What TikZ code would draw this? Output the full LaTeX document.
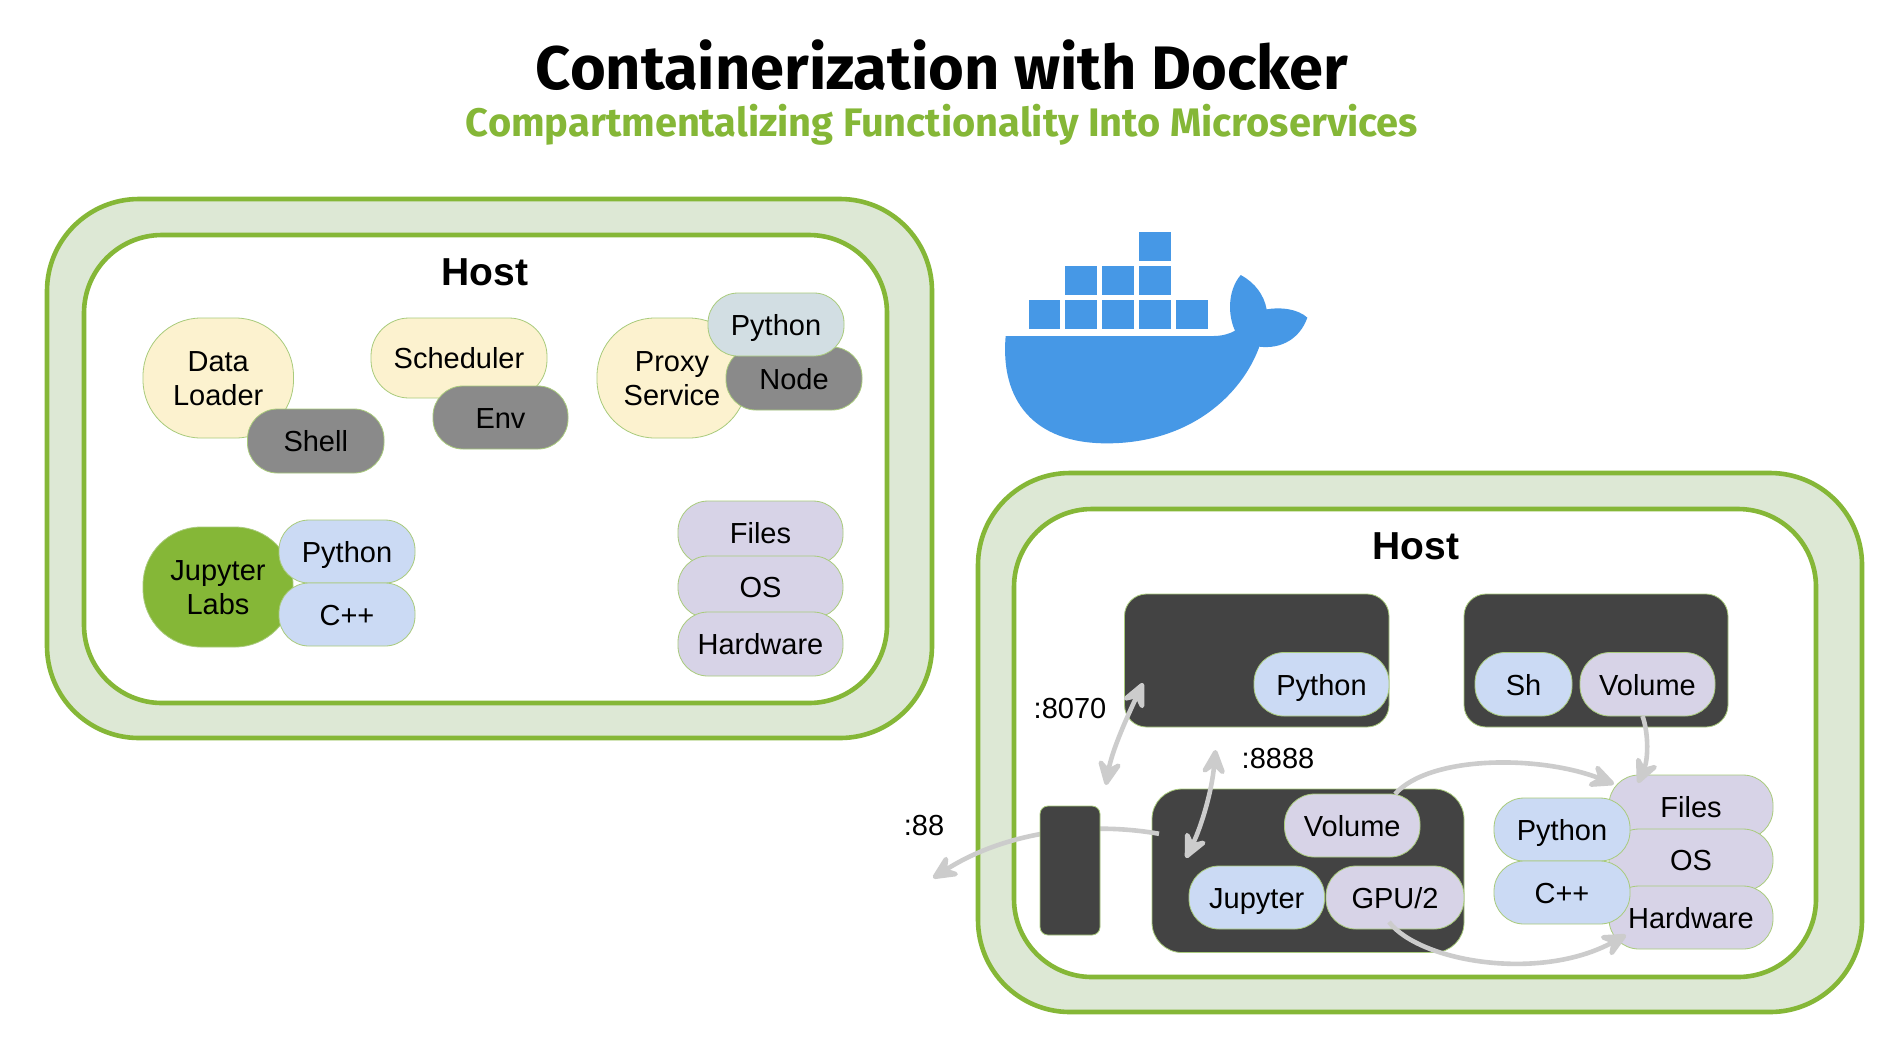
\documentclass[tikz,border=0pt]{standalone}
\usepackage{fontspec}
\setmainfont{Liberation Sans}
\newfontfamily\titlefont{Fira Sans}[UprightFont=* Bold]
\usetikzlibrary{arrows.meta,calc}
\definecolor{hostgreen}{HTML}{85B737}
\definecolor{hostfill}{HTML}{DDE8D5}
\definecolor{edgegreen}{HTML}{A9CB7C}
\definecolor{cream}{HTML}{FCF2CF}
\definecolor{midgrey}{HTML}{8A8A8A}
\definecolor{ltblue}{HTML}{CBDAF4}
\definecolor{bluegrey}{HTML}{D2DEE3}
\definecolor{lilac}{HTML}{D7D3E7}
\definecolor{darkbox}{HTML}{434343}
\definecolor{whale}{HTML}{4698E6}
\definecolor{arrowgrey}{HTML}{CCCCCC}
\newcommand{\lstrut}{\rule[-3pt]{0pt}{16.9pt}}
\newcommand{\shapeat}[7][]{%
  \pgfmathsetmacro{\cxx}{(#3+#5)/2}\pgfmathsetmacro{\cyy}{(#4+#6)/2}%
  \pgfmathsetmacro{\ww}{(#5-#3)/2}\pgfmathsetmacro{\hh}{(#6-#4)/2}%
  \node[#1,minimum width=\ww pt,minimum height=\hh pt] (#2) at (\cxx,\cyy) {\lstrut #7\lstrut};}
\tikzset{
  basebox/.style={draw=edgegreen,line width=0.4pt,inner sep=0pt,outer sep=0pt,align=center,
    font=\fontsize{14.5}{17}\selectfont,text=black},
  pill/.style={basebox,rounded corners=15pt},
  bigpill/.style={basebox,rounded corners=29pt},
  midpill/.style={basebox,rounded corners=19pt},
  cream pill/.style={fill=cream},
  grey pill/.style={pill,fill=midgrey},
  blue pill/.style={pill,fill=ltblue},
  lilac pill/.style={pill,fill=lilac},
  container/.style={basebox,fill=darkbox},
  hostouter/.style={draw=hostgreen,fill=hostfill,line width=2.3pt,rounded corners=46pt,inner sep=0pt},
  hostinner/.style={draw=hostgreen,fill=white,line width=2.3pt,rounded corners=39pt,inner sep=0pt},
  hostlabel/.style={font=\fontsize{19.5}{22}\selectfont\bfseries,inner sep=0pt},
  portlabel/.style={font=\fontsize{14.5}{17}\selectfont,inner sep=0pt},
  link/.style={draw=arrowgrey,line width=2.3pt},
  tip/.tip={Stealth[length=16pt,width=15pt,inset=6pt,round=false]},
  crate/.style={fill=whale,draw=none,inner sep=0pt,minimum width=15.7pt,minimum height=14.2pt},
}
\begin{document}
\begin{tikzpicture}[x=0.5pt,y=-0.5pt]
\useasboundingbox[fill=white] (0,0) rectangle (1900,1040);

\node[font=\titlefont\fontsize{30.7}{34}\selectfont,inner sep=0pt] (title) at (942,65) {Containerization with Docker};
\node[font=\titlefont\fontsize{19.9}{24}\selectfont,text=hostgreen,inner sep=0pt] (subtitle) at (942,125) {Compartmentalizing Functionality Into Microservices};

% left host
\shapeat[hostouter]{lo}{47}{199}{932}{738}{}
\shapeat[hostinner]{li}{84}{235}{887}{703}{}
\node[hostlabel] (lhost) at (485,272) {Host};
\shapeat[bigpill,cream pill]{dl}{143}{318}{293.5}{438}{Data\\Loader}
\shapeat[grey pill]{shell}{247.5}{409}{384}{473}{Shell}
\shapeat[midpill,cream pill]{sched}{371}{318}{547}{398}{Scheduler}
\shapeat[grey pill]{env}{433}{386}{568}{449}{Env}
\shapeat[bigpill,cream pill]{proxy}{597}{318}{747}{438}{Proxy\\Service}
\shapeat[grey pill]{nodejs}{726}{347}{862}{410}{Node}
\shapeat[pill,fill=bluegrey]{lpy1}{708}{293}{844}{356}{Python}
\shapeat[bigpill,fill=hostgreen]{jl}{143}{527}{293}{647}{Jupyter\\Labs}
\shapeat[blue pill]{lpy2}{279}{520}{415}{583}{Python}
\shapeat[blue pill]{lcpp}{279}{583}{415}{646}{C++}
\shapeat[lilac pill]{lfiles}{678}{501}{843}{565}{Files}
\shapeat[lilac pill]{los}{678}{556}{843}{618}{OS}
\shapeat[lilac pill]{lhw}{678}{612}{843}{676}{Hardware}

% whale
\begin{scope}[shift={(980,210)},x=0.16667pt,y=-0.16667pt]
\fill[whale] (77,378) -- (700,378) .. controls (725,378) and (748,372) .. (765,362)
  .. controls (745,320) and (740,245) .. (782,195)
  .. controls (825,218) and (852,255) .. (860,298)
  .. controls (905,290) and (955,298) .. (982,323)
  .. controls (960,385) and (905,418) .. (838,410)
  .. controls (785,555) and (630,700) .. (380,700)
  .. controls (160,700) and (60,570) .. (77,378) -- cycle;
\foreach \nm/\xa/\ya in {c1/145/270,c2/255/270,c3/366/270,c4/477/270,c5/588/270,c6/255/168,c7/366/168,c8/477/168,c9/477/66}{
  \node[crate,anchor=north west] (\nm) at (\xa,\ya) {};
}
\end{scope}

% right host
\shapeat[hostouter]{ro}{978}{473}{1862}{1012}{}
\shapeat[hostinner]{ri}{1014}{509}{1816}{977}{}
\node[hostlabel] (rhost) at (1416,546) {Host};

\coordinate (portout) at (933,878);
\coordinate (p8070) at (1106,785);
\coordinate (p8888) at (1215.5,750);

\shapeat[container,rounded corners=11pt]{box1}{1124.5}{594}{1389}{727}{}
\shapeat[blue pill]{rpy}{1254}{652.5}{1389}{716}{Python}
\shapeat[container,rounded corners=11pt]{box2}{1464}{594}{1728}{727}{}
\shapeat[blue pill]{sh}{1475}{652.5}{1572}{716}{Sh}
\shapeat[lilac pill]{vol2}{1580}{652.5}{1715}{716}{Volume}
\shapeat[container,rounded corners=15pt]{box3}{1152}{789}{1464}{952.5}{}

% link behind the small box
\draw[link,-{tip}] ($(box3.west)+(7,-37)$) .. controls (1080,820) and (1000,835) .. (portout);
\shapeat[container,rounded corners=4pt]{gate}{1040}{806}{1100}{935}{}

\shapeat[lilac pill]{vol3}{1284.5}{794}{1420}{857}{Volume}
\shapeat[blue pill]{jup}{1189}{866}{1324.5}{929}{Jupyter}
\shapeat[lilac pill]{gpu}{1326}{866}{1464}{929}{GPU/2}
\shapeat[lilac pill]{rfiles}{1609}{775}{1773}{839}{Files}
\shapeat[lilac pill]{ros}{1609}{829}{1773}{891}{OS}
\shapeat[lilac pill]{rhw}{1609}{886}{1773}{949}{Hardware}
\shapeat[blue pill]{rpy2}{1494}{798}{1630}{861}{Python}
\shapeat[blue pill]{rcpp}{1494}{861}{1630}{924}{C++}

\node[portlabel] (l8070) at (1070,709) {:8070};
\node[portlabel] (l8888) at (1278,759) {:8888};
\node[portlabel] (l88) at (924,826) {:88};

\draw[link,{tip}-{tip}] (p8070) .. controls (1112,750) and (1128,715) .. ($(box1.south west)+(18.5,-44)$);
\draw[link,{tip}-{tip}] (p8888) .. controls (1212,790) and (1202,825) .. ($(box3.north west)+(34,69)$);
\draw[link,-{tip}] ($(vol2.south)+(-5,0)$) .. controls (1649,735) and (1648,760) .. ($(rfiles.north west)+(29,8)$);
\draw[link,-{tip}] ($(vol3.north east)+(-25,0)$) .. controls (1430,755) and (1540,755) .. ($(rfiles.north west)+(5,9)$);
\draw[link,-{tip}] ($(gpu.south west)+(63,-7)$) .. controls (1420,962) and (1540,982) .. ($(rhw.south west)+(17,-14)$);
\end{tikzpicture}
\end{document}
